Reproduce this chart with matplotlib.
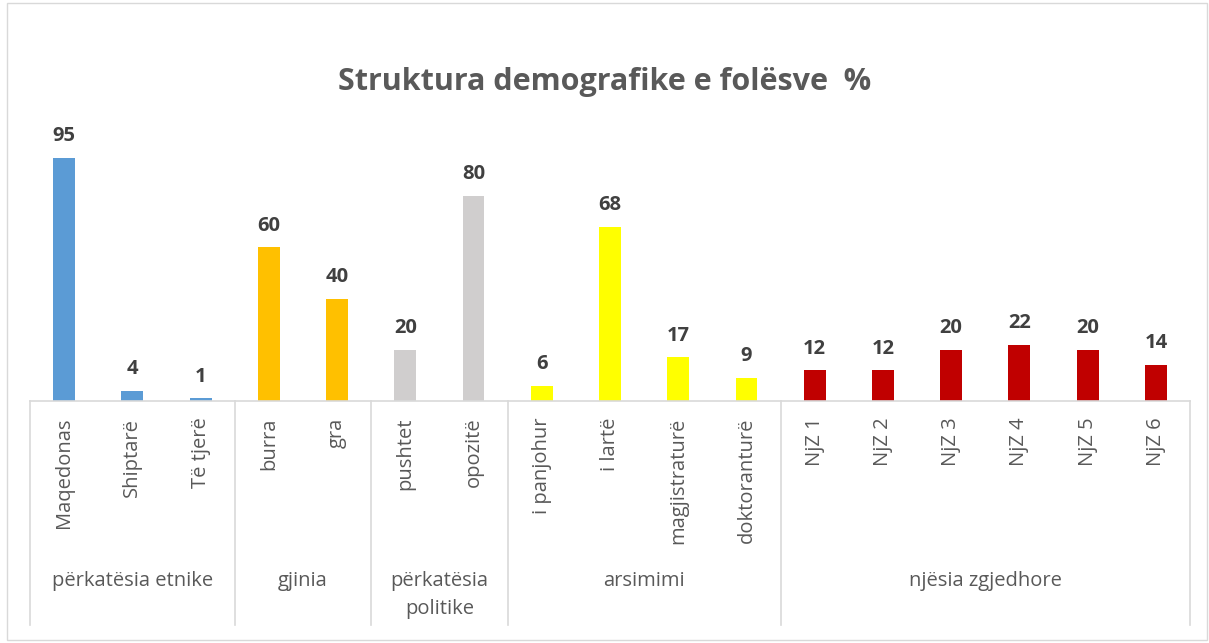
import matplotlib
matplotlib.use("Agg")
import matplotlib.pyplot as plt
import matplotlib.transforms as mtransforms
from matplotlib.patches import Rectangle

plt.rcParams['font.family'] = ['Open Sans', 'DejaVu Sans']

categories = ["Maqedonas", "Shiptarë", "Të tjerë", "burra", "gra", "pushtet", "opozitë",
              "i panjohur", "i lartë", "magjistraturë", "doktoranturë",
              "NjZ 1", "NjZ 2", "NjZ 3", "NjZ 4", "NjZ 5", "NjZ 6"]
values = [95, 4, 1, 60, 40, 20, 80, 6, 68, 17, 9, 12, 12, 20, 22, 20, 14]
groups = ["përkatësia etnike", "gjinia", "përkatësia\npolitike", "arsimimi", "njësia zgjedhore"]
group_sizes = [3, 2, 2, 4, 6]
group_colors = ["#5B9BD5", "#FFC000", "#D0CECE", "#FFFF00", "#C00000"]
title = "Struktura demografike e folësve  %"

colors = []
for c, n in zip(group_colors, group_sizes):
    colors += [c] * n

W, H = 1209, 643
fig = plt.figure(figsize=(W / 100, H / 100), dpi=100)
fig.patches.append(Rectangle((7 / W, 3 / H), (W - 9) / W, (H - 6) / H, transform=fig.transFigure,
                             fill=False, edgecolor="#D9D9D9", linewidth=1.0))

ax_left, ax_right = 30 / W, 1190 / W
ax_bottom = 1 - 401 / H
ax_height = 256 / H
ax = fig.add_axes([ax_left, ax_bottom, ax_right - ax_left, ax_height])

x = list(range(len(categories)))
ax.bar(x, values, width=0.32, color=colors, zorder=2)
ax.set_xlim(-0.5, len(categories) - 0.5)
ax.set_ylim(0, 100)

for xi, v in zip(x, values):
    ax.text(xi, v + 4.6, str(v), ha="center", va="bottom", fontsize=14.5,
            fontweight="bold", color="#404040")

for s in ["top", "left", "right"]:
    ax.spines[s].set_visible(False)
ax.spines["bottom"].set_color("#D9D9D9")
ax.spines["bottom"].set_linewidth(1.2)
ax.set_yticks([])
ax.set_xticks(x)
ax.set_xticklabels(categories, rotation=90, fontsize=14.5, color="#595959", va="top")
ax.tick_params(axis="x", length=0, pad=12)

trans = mtransforms.blended_transform_factory(ax.transData, ax.transAxes)
py = 256.0
bounds = [-0.5]
acc = -0.5
for n in group_sizes:
    acc += n
    bounds.append(acc)
for b in bounds:
    ax.plot([b, b], [0, -(625 - 401) / py], transform=trans, color="#D9D9D9",
            linewidth=1.2, clip_on=False)

start = -0.5
for g, n in zip(groups, group_sizes):
    center = start + n / 2
    start += n
    ax.text(center, -(571 - 401) / py, g, transform=trans, ha="center", va="top",
            fontsize=14.5, color="#595959", linespacing=1.55)

fig.text(0.5, 1 - 82 / H, title, ha="center", va="center", fontsize=22,
         fontweight="bold", color="#595959")

fig.savefig("out.png", dpi=100)
